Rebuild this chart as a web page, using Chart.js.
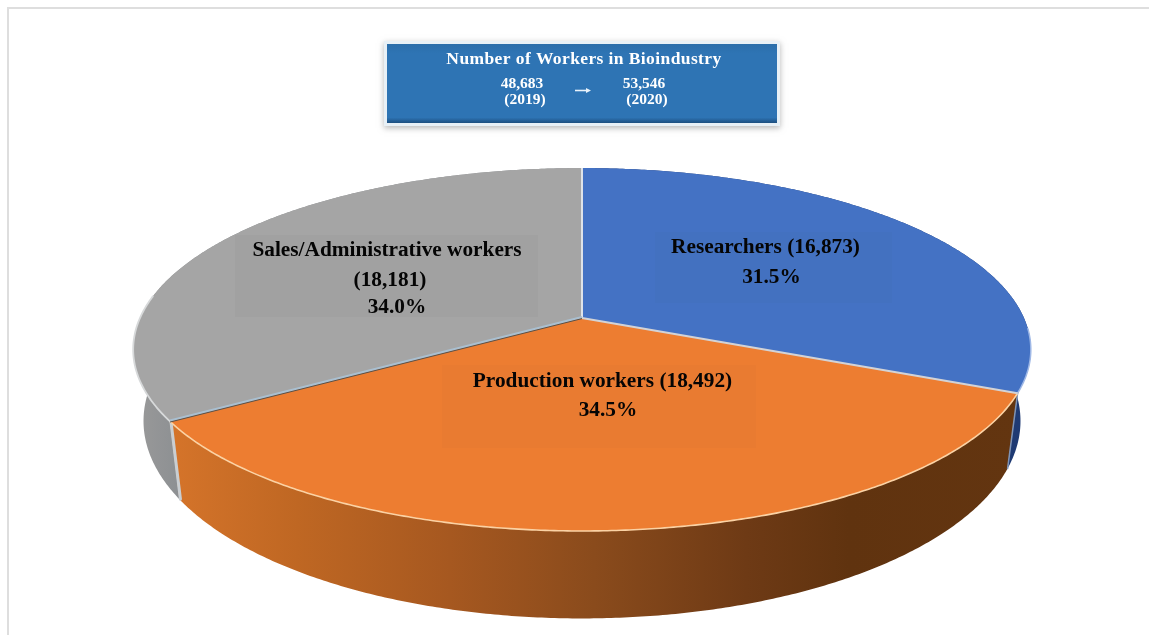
<!DOCTYPE html>
<html>
<head>
<meta charset="utf-8">
<style>
html,body{margin:0;padding:0;background:#fff;width:1149px;height:635px;overflow:hidden}
#wrap{position:absolute;left:0;top:0;width:1149px;height:635px}
canvas{display:block;filter:blur(0.4px)}
</style>
<script src="https://cdn.jsdelivr.net/npm/chart.js@4"></script>
</head>
<body>
<div id="wrap"><canvas id="c" width="1149" height="635"></canvas></div>
<script>
// ---- data ----
const categories = ['Researchers', 'Production workers', 'Sales/Administrative workers'];
const workers2020 = [16873, 18492, 18181];
const shareLabels = ['31.5%', '34.5%', '34.0%'];
const headerTitle = 'Number of Workers in Bioindustry';
const headerYears = ['(2019)', '(2020)'];
const headerTotals = ['48,683', '53,546'];

// ---- styles ----
const topColors = ['#4472c4', '#ed7d31', '#a5a5a5'];
const serif = '"Liberation Serif"';

// perspective of the pie top: unit circle -> screen (relative to the arc centre)
const P = {b: 442, a: 176, k: 0.1736};
// bottom rim: scaled copy of the top rim
const B = {sx: 0.977, sy: 1.088, yc: 421, topYc: 349.5};

function fmt(n){ return n.toLocaleString('en-US'); }

function topPt(arc, ang){
  const u = Math.cos(ang), v = Math.sin(ang), w = 1 - P.k * v;
  return [arc.x + P.b * u / w, arc.y + P.a * v / w];
}
function botPt(arc, ang){
  const p = topPt(arc, ang);
  return [arc.x + (p[0] - arc.x) * B.sx, B.yc + (p[1] - B.topYc) * B.sy];
}
function rimPts(fn, arc, a0, a1){
  const n = Math.max(8, Math.ceil(Math.abs(a1 - a0) * 120)), pts = [];
  for (let i = 0; i <= n; i++) pts.push(fn(arc, a0 + (a1 - a0) * i / n));
  return pts;
}
function trace(ctx, pts, move){
  pts.forEach((p, i) => (i === 0 && move) ? ctx.moveTo(p[0], p[1]) : ctx.lineTo(p[0], p[1]));
}

const pie3d = {
  id: 'pie3d',
  beforeDraw(chart){
    const ctx = chart.ctx;
    ctx.save();
    ctx.fillStyle = '#fff';
    ctx.fillRect(0, 0, 1149, 635);
    ctx.fillStyle = '#dedede';
    ctx.fillRect(7, 7, 1142, 2);
    ctx.fillRect(7, 7, 2, 628);
    ctx.restore();
  },
  beforeDatasetDraw(chart){
    const ctx = chart.ctx;
    const arcs = chart.getDatasetMeta(0).data;
    const a = arcs[0];
    const cx = a.x, cy = a.y;
    ctx.save();

    // side walls
    const sideOrange = ctx.createLinearGradient(170, 0, 1018, 0);
    sideOrange.addColorStop(0, '#d5742a');
    sideOrange.addColorStop(0.15, '#bf6723');
    sideOrange.addColorStop(0.33, '#a65820');
    sideOrange.addColorStop(0.5, '#8a4b1c');
    sideOrange.addColorStop(0.68, '#6e3a15');
    sideOrange.addColorStop(0.8, '#60330f');
    sideOrange.addColorStop(1, '#633510');
    const sideGray = ctx.createLinearGradient(133, 0, 182, 0);
    sideGray.addColorStop(0, '#9a9a9a');
    sideGray.addColorStop(1, '#8c8f92');
    const sideFill = [ '#1f3a73', sideOrange, sideGray ];
    [2, 0, 1].forEach(i => {
      const arc = arcs[i];
      ctx.beginPath();
      trace(ctx, rimPts(topPt, arc, arc.startAngle, arc.endAngle), true);
      trace(ctx, rimPts(botPt, arc, arc.endAngle, arc.startAngle), false);
      ctx.closePath();
      ctx.fillStyle = sideFill[i];
      ctx.fill();
    });

    // pale edges between the walls
    const seam = arcs[1].endAngle, seam2 = arcs[0].endAngle;
    ctx.lineCap = 'round';
    let s = topPt(a, seam), e = botPt(a, seam);
    ctx.strokeStyle = '#c9ced2';
    ctx.lineWidth = 3;
    ctx.beginPath(); ctx.moveTo(s[0] + 1, s[1]); ctx.lineTo(e[0] + 1, e[1]); ctx.stroke();
    s = topPt(a, seam2); e = botPt(a, seam2);
    ctx.strokeStyle = '#7f93b5';
    ctx.lineWidth = 1.5;
    ctx.beginPath(); ctx.moveTo(s[0], s[1]); ctx.lineTo(e[0], e[1]); ctx.stroke();

    // top surface
    arcs.forEach((arc, i) => {
      ctx.beginPath();
      ctx.moveTo(cx, cy);
      trace(ctx, rimPts(topPt, arc, arc.startAngle, arc.endAngle), false);
      ctx.closePath();
      ctx.fillStyle = topColors[i];
      ctx.fill();
    });

    // rim highlights
    const orange = arcs[1], gray = arcs[2], blue = arcs[0];
    ctx.lineWidth = 1.6;
    ctx.strokeStyle = '#fbd2a4';
    ctx.beginPath(); trace(ctx, rimPts(topPt, orange, orange.startAngle, orange.endAngle), true); ctx.stroke();
    ctx.lineWidth = 1.8;
    ctx.strokeStyle = '#d7d9da';
    ctx.beginPath(); trace(ctx, rimPts(topPt, gray, gray.startAngle, Math.PI * 1.04), true); ctx.stroke();
    ctx.lineWidth = 1.5;
    ctx.strokeStyle = '#9fb8e6';
    ctx.beginPath(); trace(ctx, rimPts(topPt, blue, 0.06, blue.endAngle), true); ctx.stroke();

    // spokes
    ctx.lineCap = 'butt';
    const spoke = (ang, col, w, dy) => {
      const p = topPt(a, ang);
      ctx.strokeStyle = col; ctx.lineWidth = w;
      ctx.beginPath(); ctx.moveTo(cx, cy + dy); ctx.lineTo(p[0], p[1] + dy); ctx.stroke();
    };
    spoke(gray.endAngle, '#dfe3e8', 2, 0);
    spoke(blue.endAngle, '#d3d3d6', 2, 0);
    spoke(gray.startAngle, '#a9bfd0', 2, -1);
    spoke(gray.startAngle, '#57524d', 1, 0.6);
    ctx.restore();
    return false;
  },
  afterDatasetsDraw(chart){
    const ctx = chart.ctx;
    ctx.save();

    // label backdrops
    const backs = [
      ['#4371c0', 655, 232, 237, 71],
      ['#e97b31', 442, 365, 314, 83],
      ['#a1a1a1', 235, 235, 303, 82]
    ];
    backs.forEach(b => { ctx.fillStyle = b[0]; ctx.fillRect(b[1], b[2], b[3], b[4]); });

    // slice labels
    ctx.fillStyle = '#050505';
    ctx.textAlign = 'center';
    ctx.textBaseline = 'alphabetic';
    ctx.font = 'bold 21.3px ' + serif;
    const v = workers2020, n = categories;
    ctx.fillText(n[0] + ' (' + fmt(v[0]) + ')', 765.5, 253);
    ctx.fillText(shareLabels[0], 771.5, 283);
    ctx.fillText(n[1] + ' (' + fmt(v[1]) + ')', 602.5, 387);
    ctx.fillText(shareLabels[1], 608, 416);
    ctx.fillText(n[2], 387, 256);
    ctx.fillText('(' + fmt(v[2]) + ')', 390, 286);
    ctx.fillText(shareLabels[2], 397, 313);

    // header box
    ctx.save();
    ctx.shadowColor = 'rgba(120,120,120,0.55)';
    ctx.shadowBlur = 6;
    ctx.shadowOffsetY = 2;
    ctx.fillStyle = '#e8f0f6';
    ctx.fillRect(384, 41, 396, 85);
    ctx.restore();
    const hg = ctx.createLinearGradient(0, 44, 0, 123);
    hg.addColorStop(0, '#2b6eaa');
    hg.addColorStop(0.12, '#2e74b4');
    hg.addColorStop(0.93, '#2e74b4');
    hg.addColorStop(1, '#1d4f80');
    ctx.fillStyle = hg;
    ctx.fillRect(387, 44, 390, 79);
    ctx.fillStyle = '#fff';
    ctx.font = 'bold 17.5px ' + serif;
    ctx.letterSpacing = '0.4px';
    ctx.fillText(headerTitle, 584, 64);
    ctx.letterSpacing = '0px';
    ctx.font = 'bold 15.5px ' + serif;
    ctx.fillText(headerTotals[0], 522, 88);
    ctx.fillText(headerYears[0], 525, 104);
    ctx.fillText(headerTotals[1], 644, 88);
    ctx.fillText(headerYears[1], 647, 104);
    // arrow
    ctx.strokeStyle = '#e8f2fa';
    ctx.lineWidth = 1.6;
    ctx.beginPath(); ctx.moveTo(575, 90.5); ctx.lineTo(588, 90.5); ctx.stroke();
    ctx.fillStyle = '#e8f2fa';
    ctx.beginPath(); ctx.moveTo(591, 90.5); ctx.lineTo(586, 88); ctx.lineTo(586, 93); ctx.closePath(); ctx.fill();
    ctx.restore();
  }
};

new Chart(document.getElementById('c'), {
  type: 'pie',
  data: {
    labels: categories,
    datasets: [{ data: workers2020, backgroundColor: topColors, borderWidth: 0 }]
  },
  options: {
    responsive: false,
    animation: false,
    layout: { padding: { left: 15, top: 1 } },
    plugins: { legend: { display: false }, tooltip: { enabled: false }, title: { display: false } }
  },
  plugins: [pie3d]
});
</script>
</body>
</html>
